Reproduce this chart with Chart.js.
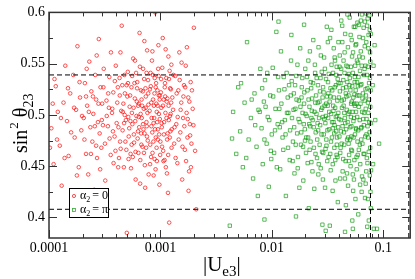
<!DOCTYPE html>
<html>
<head>
<meta charset="utf-8">
<script src="https://cdn.jsdelivr.net/npm/chart.js@4"></script>
<style>
  body { margin: 0; background: #fff; }
  #wrap { width: 415px; height: 279px; }
</style>
</head>
<body>
<div id="wrap"><canvas id="chart"></canvas></div>
<script>
// |Ue3| , sin^2 theta23 for alpha2 = 0
const redPoints = [
  [0.000105,0.487],[0.00011,0.452],[0.000115,0.528],[0.00012,0.503],[0.000125,0.47],[0.00013,0.431],[0.000135,0.512],[0.00014,0.548],[0.000145,0.494],[0.00015,0.46],
  [0.000155,0.521],[0.00016,0.418],[0.000165,0.539],[0.00017,0.478],[0.000175,0.505],[0.00018,0.567],[0.000185,0.449],[0.00019,0.517],[0.000195,0.485],[0.000112,0.535],
  [0.000205,0.497],[0.00021,0.531],[0.000215,0.462],[0.00022,0.509],[0.000225,0.442],[0.00023,0.552],[0.000235,0.488],[0.00024,0.523],[0.000245,0.474],[0.00025,0.501],
  [0.000255,0.427],[0.00026,0.539],[0.000265,0.515],[0.00027,0.458],[0.000275,0.493],[0.00028,0.574],[0.000285,0.482],[0.00029,0.527],[0.000295,0.468],[0.0003,0.511],
  [0.00031,0.545],[0.00032,0.436],[0.00033,0.499],[0.00034,0.521],[0.00035,0.477],[0.00036,0.561],[0.00037,0.506],[0.00038,0.453],[0.00039,0.533],[0.000215,0.518],
  [0.000265,0.47],[0.000305,0.49],[0.000345,0.507],[0.000375,0.484],[0.000395,0.465],
  [0.00041,0.512],[0.00042,0.488],[0.00043,0.536],[0.00044,0.467],[0.00045,0.587],[0.00046,0.503],[0.00047,0.449],[0.00048,0.521],[0.00049,0.495],[0.0005,0.385],
  [0.00051,0.542],[0.00052,0.479],[0.00053,0.508],[0.00054,0.462],[0.00055,0.527],[0.00056,0.491],[0.00057,0.555],[0.00058,0.473],[0.00059,0.516],[0.0006,0.437],
  [0.00061,0.499],[0.00062,0.532],[0.00063,0.484],[0.00064,0.511],[0.00065,0.58],[0.00066,0.456],[0.00067,0.524],[0.00068,0.497],[0.00069,0.469],[0.0007,0.545],
  [0.00071,0.506],[0.00072,0.482],[0.00073,0.429],[0.00074,0.518],[0.00075,0.493],[0.00076,0.563],[0.00077,0.475],[0.00078,0.51],[0.000425,0.458],[0.000455,0.529],
  [0.000485,0.474],[0.000515,0.498],[0.000545,0.448],[0.000575,0.507],[0.000605,0.541],[0.000635,0.463],[0.000665,0.501],[0.000695,0.523],[0.000725,0.451],[0.000755,0.489],
  [0.000445,0.504],[0.000535,0.519],[0.000625,0.477],[0.000715,0.535],[0.000785,0.442],
  [0.0008,0.504],[0.00081,0.471],[0.00082,0.528],[0.00083,0.489],[0.00084,0.553],[0.00085,0.463],[0.00086,0.515],[0.00087,0.441],[0.00088,0.497],[0.00089,0.536],
  [0.0009,0.6],[0.00091,0.478],[0.00092,0.511],[0.00093,0.455],[0.00094,0.524],[0.00095,0.486],[0.00096,0.568],[0.00097,0.501],[0.00098,0.432],[0.00099,0.519],
  [0.001,0.474],[0.00102,0.507],[0.00104,0.546],[0.00106,0.465],[0.00108,0.493],[0.0011,0.531],[0.00112,0.449],[0.00114,0.513],[0.00116,0.482],[0.00118,0.557],
  [0.0012,0.395],[0.00122,0.499],[0.00124,0.525],[0.00126,0.468],[0.000815,0.541],[0.000845,0.483],[0.000875,0.509],[0.000905,0.447],[0.000935,0.493],[0.000965,0.538],
  [0.000995,0.461],[0.00101,0.522],[0.00103,0.488],[0.00105,0.575],[0.00107,0.515],[0.00109,0.456],[0.00111,0.502],[0.00113,0.536],[0.00115,0.476],[0.00117,0.424],
  [0.00119,0.495],[0.00121,0.543],[0.00123,0.484],[0.00125,0.512],[0.000825,0.459],
  [0.0013,0.505],[0.00133,0.472],[0.00136,0.538],[0.00139,0.491],[0.00142,0.453],[0.00145,0.524],[0.00148,0.561],[0.00151,0.483],[0.00154,0.512],[0.00157,0.437],
  [0.0016,0.497],[0.00163,0.529],[0.00166,0.466],[0.00169,0.548],[0.00172,0.502],[0.00175,0.478],[0.00178,0.517],[0.00181,0.445],[0.00184,0.491],[0.00187,0.532],
  [0.0019,0.472],[0.00195,0.506],[0.002,0.585],[0.00205,0.465],[0.0021,0.408],
  [0.000102,0.468],[0.000108,0.511],[0.000118,0.476],[0.000128,0.497],[0.000138,0.458],[0.000148,0.526],[0.000158,0.483],[0.000168,0.507],[0.000178,0.441],[0.000188,0.532],
  [0.000198,0.499],[0.000208,0.476],[0.000218,0.545],[0.000228,0.503],[0.000238,0.462],[0.000248,0.518],[0.000258,0.489],[0.000268,0.558],[0.000278,0.511],[0.000288,0.447],
  [0.000298,0.495],[0.000308,0.527],[0.000318,0.472],[0.000328,0.514],[0.000338,0.489],[0.000348,0.537],[0.000358,0.461],[0.000368,0.502],[0.000378,0.522],[0.000388,0.479],
  [0.000398,0.548],[0.000405,0.492],[0.000415,0.527],[0.000435,0.474],[0.000465,0.511],[0.000475,0.539],[0.000495,0.466],[0.000505,0.518],[0.000525,0.487],[0.000555,0.502],
  [0.000565,0.459],[0.000585,0.531],[0.000595,0.494],[0.000615,0.513],[0.000645,0.488],[0.000655,0.547],[0.000675,0.471],[0.000685,0.509],[0.000705,0.486],[0.000735,0.526],
  [0.000745,0.468],[0.000765,0.502],[0.000775,0.534],[0.000418,0.449],[0.000438,0.561],[0.000458,0.485],[0.000478,0.5],[0.000498,0.529],[0.000518,0.457],[0.000538,0.494],
  [0.000558,0.538],[0.000578,0.481],[0.000598,0.464],[0.000618,0.526],[0.000638,0.498],[0.000658,0.433],[0.000678,0.515],[0.000698,0.491],[0.000718,0.572],[0.000738,0.507],
  [0.000758,0.479],[0.000778,0.521],[0.000432,0.519],[0.000472,0.492],[0.000512,0.531],[0.000552,0.471],[0.000592,0.553],[0.000632,0.509],[0.000672,0.482],[0.000712,0.463],
  [0.000752,0.541],[0.000805,0.525],[0.000835,0.497],[0.000855,0.539],[0.000865,0.474],[0.000885,0.521],[0.000895,0.486],[0.000915,0.531],[0.000925,0.468],[0.000945,0.509],
  [0.000955,0.545],[0.000975,0.481],[0.000985,0.515],[0.000808,0.452],[0.000828,0.512],[0.000848,0.562],[0.000868,0.492],[0.000888,0.457],[0.000908,0.527],[0.000928,0.503],
  [0.000948,0.476],[0.000968,0.519],[0.000988,0.496],[0.001015,0.535],[0.001035,0.469],[0.001055,0.509],[0.001075,0.481],[0.001095,0.527],[0.001115,0.564],[0.001135,0.497],
  [0.001155,0.516],[0.001175,0.461],[0.001195,0.535],[0.001215,0.478],[0.001235,0.501],[0.001255,0.549],[0.001025,0.492],[0.001065,0.455],[0.001105,0.518],[0.001145,0.443],
  [0.001185,0.509],[0.001225,0.526],[0.001265,0.486],
  [0.00128,0.517],[0.00131,0.539],[0.00134,0.488],[0.00137,0.458],[0.0014,0.521],[0.00143,0.498],[0.00146,0.476],[0.00149,0.534],[0.00152,0.505],[0.00155,0.551],
  [0.00158,0.469],[0.00161,0.518],[0.00164,0.489],[0.00167,0.527],[0.0017,0.455],[0.00173,0.566],[0.00176,0.496],[0.00179,0.426],[0.00182,0.513],[0.00185,0.48],
  [0.00188,0.449],[0.00192,0.524],[0.00198,0.49]
];

// |Ue3| , sin^2 theta23 for alpha2 = pi
const greenPoints = [
  [0.0042,0.392],[0.0045,0.503],[0.0048,0.462],[0.005,0.527],[0.0052,0.484],[0.0055,0.449],[0.0057,0.512],[0.006,0.571],[0.0062,0.476],[0.0065,0.497],
  [0.0068,0.438],[0.007,0.521],[0.0073,0.469],[0.0076,0.505],[0.0079,0.545],
  [0.0081,0.487],[0.0083,0.452],[0.0085,0.513],[0.0087,0.534],[0.009,0.472],[0.0092,0.498],[0.0094,0.43],[0.0097,0.519],[0.01,0.481],[0.0102,0.546],
  [0.0105,0.463],[0.0108,0.506],[0.011,0.581],[0.0113,0.491],[0.0116,0.524],[0.0119,0.447],[0.0122,0.511],[0.0125,0.478],[0.0128,0.537],[0.0131,0.495],
  [0.0134,0.421],[0.0137,0.502],[0.014,0.468],[0.0143,0.529],[0.0146,0.485],[0.0149,0.553],[0.0088,0.508],[0.0099,0.457],[0.0118,0.488],[0.0139,0.517],
  [0.0152,0.497],[0.0155,0.474],[0.0158,0.521],[0.016,0.443],[0.0163,0.506],[0.0166,0.538],[0.0169,0.482],[0.0172,0.459],[0.0175,0.514],[0.0178,0.493],
  [0.018,0.565],[0.0183,0.471],[0.0186,0.527],[0.0189,0.502],[0.0192,0.436],[0.0195,0.511],[0.0198,0.486],[0.02,0.545],[0.0203,0.463],[0.0206,0.499],
  [0.0209,0.524],[0.0212,0.478],[0.0215,0.409],[0.0218,0.508],[0.0221,0.489],[0.0224,0.532],[0.0227,0.454],[0.023,0.516],[0.0233,0.495],[0.0236,0.573],
  [0.0239,0.468],[0.0242,0.503],[0.0245,0.541],[0.0248,0.483],[0.0157,0.505],[0.0171,0.448],[0.0185,0.517],[0.0199,0.475],[0.0213,0.553],[0.0227,0.497],
  [0.0241,0.428],[0.0162,0.529],[0.0194,0.491],[0.0219,0.466],[0.0246,0.512],
  [0.0252,0.501],[0.0256,0.476],[0.026,0.529],[0.0264,0.452],[0.0268,0.513],[0.0272,0.49],[0.0276,0.558],[0.028,0.481],[0.0284,0.507],[0.0288,0.437],
  [0.0292,0.522],[0.0296,0.496],[0.03,0.545],[0.0304,0.467],[0.0308,0.511],[0.0312,0.586],[0.0316,0.485],[0.032,0.532],[0.0324,0.459],[0.0328,0.503],
  [0.0332,0.392],[0.0336,0.518],[0.034,0.474],[0.0344,0.549],[0.0348,0.493],[0.0352,0.426],[0.0356,0.509],[0.036,0.565],[0.0364,0.482],[0.0368,0.527],
  [0.0372,0.456],[0.0376,0.498],[0.038,0.539],[0.0384,0.471],[0.0388,0.514],[0.0392,0.415],[0.0396,0.502],[0.0258,0.492],[0.0274,0.536],[0.029,0.463],
  [0.0306,0.499],[0.0322,0.521],[0.0338,0.446],[0.0354,0.487],[0.037,0.553],[0.0386,0.478],[0.0262,0.442],[0.0286,0.517],[0.031,0.47],[0.0334,0.575],
  [0.0358,0.504],[0.0382,0.461],[0.0398,0.531],[0.0318,0.509],[0.0366,0.49],
  [0.0403,0.496],[0.0409,0.523],[0.0415,0.468],[0.0421,0.592],[0.0427,0.507],[0.0433,0.445],[0.0439,0.534],[0.0445,0.483],[0.0451,0.561],[0.0457,0.492],
  [0.0463,0.412],[0.0469,0.518],[0.0475,0.476],[0.0481,0.547],[0.0487,0.501],[0.0493,0.455],[0.0499,0.529],[0.0505,0.488],[0.0511,0.578],[0.0517,0.466],
  [0.0523,0.513],[0.0529,0.397],[0.0535,0.541],[0.0541,0.494],[0.0547,0.437],[0.0553,0.52],[0.0559,0.481],[0.0565,0.568],[0.0571,0.503],[0.0577,0.459],
  [0.0583,0.532],[0.0589,0.474],[0.0595,0.551],[0.0406,0.547],[0.0418,0.484],[0.043,0.571],[0.0442,0.509],[0.0454,0.438],[0.0466,0.527],[0.0478,0.598],
  [0.049,0.472],[0.0502,0.536],[0.0514,0.498],[0.0526,0.557],[0.0538,0.426],[0.055,0.511],[0.0562,0.586],[0.0574,0.486],[0.0586,0.519],[0.0598,0.403],
  [0.0412,0.463],[0.0448,0.502],[0.0484,0.431],[0.052,0.479],[0.0556,0.537],
  [0.0604,0.508],[0.0611,0.557],[0.0618,0.471],[0.0625,0.529],[0.0632,0.592],[0.0639,0.488],[0.0646,0.44],[0.0653,0.516],[0.066,0.575],[0.0667,0.462],
  [0.0674,0.502],[0.0681,0.545],[0.0688,0.419],[0.0695,0.525],[0.0702,0.599],[0.0709,0.481],[0.0716,0.539],[0.0723,0.453],[0.073,0.512],[0.0737,0.565],
  [0.0744,0.397],[0.0751,0.493],[0.0758,0.583],[0.0765,0.468],[0.0772,0.524],[0.0779,0.446],[0.0607,0.588],[0.0621,0.432],[0.0642,0.548],[0.0663,0.496],
  [0.0684,0.567],[0.0705,0.445],[0.0726,0.594],[0.0747,0.515],[0.0768,0.552],[0.0775,0.409],[0.0636,0.476],[0.0698,0.506],[0.0733,0.478],[0.0761,0.536],
  [0.0805,0.529],[0.0812,0.452],[0.0825,0.389],[0.0838,0.568],[0.085,0.495],[0.088,0.389],[0.092,0.472],[0.082,0.548],
  [0.0044,0.477],[0.0053,0.531],[0.0059,0.458],[0.0066,0.515],[0.0071,0.49],[0.0075,0.421],[0.0078,0.503],
  [0.0082,0.526],[0.0086,0.476],[0.0091,0.541],[0.0095,0.495],[0.0098,0.465],[0.0103,0.518],[0.0107,0.485],[0.0111,0.449],[0.0114,0.537],[0.0117,0.506],
  [0.0121,0.562],[0.0124,0.493],[0.0127,0.466],[0.013,0.525],[0.0133,0.481],[0.0136,0.541],[0.0141,0.502],[0.0145,0.456],[0.0148,0.519],
  [0.0151,0.533],[0.0154,0.455],[0.0159,0.488],[0.0164,0.471],[0.0167,0.515],[0.017,0.549],[0.0174,0.496],[0.0177,0.429],[0.0181,0.508],[0.0184,0.483],
  [0.0188,0.536],[0.0191,0.469],[0.0196,0.522],[0.0201,0.501],[0.0204,0.478],[0.0207,0.537],[0.021,0.453],[0.0214,0.515],[0.0217,0.491],[0.022,0.562],
  [0.0223,0.474],[0.0226,0.526],[0.0229,0.504],[0.0232,0.445],[0.0235,0.531],[0.0238,0.488],[0.0244,0.549],[0.0247,0.462],[0.025,0.519],
  [0.0253,0.536],[0.0255,0.458],[0.0259,0.512],[0.0261,0.485],[0.0263,0.566],[0.0266,0.497],[0.0269,0.471],[0.0271,0.523],[0.0275,0.448],[0.0278,0.505],
  [0.0281,0.542],[0.0283,0.464],[0.0287,0.498],[0.0289,0.527],[0.0293,0.481],[0.0295,0.556],[0.0298,0.509],[0.0301,0.429],[0.0303,0.492],[0.0307,0.535],
  [0.0309,0.476],[0.0313,0.518],[0.0315,0.455],[0.0319,0.571],[0.0321,0.497],[0.0325,0.54],[0.0327,0.486],[0.0331,0.513],[0.0335,0.462],[0.0337,0.526],
  [0.0341,0.501],[0.0343,0.583],[0.0347,0.478],[0.0349,0.524],[0.0353,0.452],[0.0355,0.541],[0.0359,0.493],[0.0361,0.517],[0.0365,0.468],[0.0367,0.556],
  [0.0371,0.507],[0.0373,0.436],[0.0377,0.529],[0.0379,0.484],[0.0383,0.547],[0.0385,0.499],[0.0389,0.459],[0.0391,0.535],[0.0395,0.488],[0.0397,0.571],
  [0.0401,0.517],[0.0405,0.479],[0.0408,0.558],[0.0411,0.438],[0.0414,0.531],[0.0417,0.495],[0.042,0.545],[0.0424,0.472],[0.0426,0.514],[0.0429,0.587],
  [0.0432,0.489],[0.0436,0.526],[0.0438,0.457],[0.0441,0.553],[0.0444,0.515],[0.0447,0.471],[0.045,0.541],[0.0453,0.497],[0.0456,0.579],[0.046,0.455],
  [0.0462,0.521],[0.0465,0.486],[0.0468,0.548],[0.0471,0.505],[0.0474,0.443],[0.0477,0.532],[0.048,0.493],[0.0483,0.566],[0.0486,0.478],[0.0489,0.519],
  [0.0492,0.54],[0.0495,0.461],[0.0498,0.503],[0.0501,0.595],[0.0504,0.476],[0.0508,0.524],[0.051,0.45],[0.0513,0.547],[0.0516,0.511],[0.0519,0.489],
  [0.0522,0.573],[0.0525,0.465],[0.0528,0.528],[0.0531,0.503],[0.0534,0.442],[0.0537,0.561],[0.054,0.517],[0.0543,0.478],[0.0546,0.586],[0.0549,0.497],
  [0.0552,0.456],[0.0555,0.532],[0.0558,0.509],[0.0561,0.548],[0.0564,0.418],[0.0567,0.524],[0.057,0.487],[0.0573,0.569],[0.0576,0.511],[0.0579,0.447],
  [0.0582,0.553],[0.0585,0.498],[0.0588,0.59],[0.0591,0.461],[0.0594,0.528],[0.0597,0.485],
  [0.0601,0.537],[0.0605,0.466],[0.0609,0.519],[0.0613,0.576],[0.0616,0.495],[0.062,0.543],[0.0623,0.452],[0.0627,0.511],[0.063,0.562],[0.0634,0.487],
  [0.0638,0.53],[0.0641,0.425],[0.0645,0.598],[0.0649,0.503],[0.0652,0.472],[0.0656,0.556],[0.0659,0.521],[0.0664,0.437],[0.0668,0.585],[0.0671,0.49],
  [0.0675,0.539],[0.0679,0.462],[0.0683,0.514],[0.0686,0.591],[0.069,0.479],[0.0694,0.548],[0.0697,0.433],[0.0701,0.519],[0.0706,0.571],[0.071,0.496],
  [0.0714,0.458],[0.0718,0.587],[0.0721,0.526],[0.0725,0.489],[0.0729,0.547],[0.0732,0.418],[0.0736,0.502],[0.074,0.578],[0.0743,0.464],[0.0748,0.531],
  [0.0752,0.597],[0.0756,0.483],[0.0759,0.441],[0.0763,0.561],[0.0767,0.508],[0.077,0.425],[0.0774,0.579],[0.0777,0.492],
  [0.0086,0.398],[0.0165,0.401],[0.0285,0.393],[0.0455,0.386],[0.0305,0.387],[0.0535,0.389],[0.072,0.391],[0.0115,0.591],[0.0195,0.588],[0.015,0.578]
];

const dashedU = [0.077, 0.17];
const dashedS = [0.408, 0.539];

const xRange = [0.0001, 0.175];
const yRange = [0.38, 0.6];
const xTicks = [0.0001, 0.001, 0.01, 0.1];
const xTickLabels = ['0.0001', '0.001', '0.01', '0.1'];
const yTicks = [0.4, 0.45, 0.5, 0.55, 0.6];
const yTickLabels = ['0.4', '0.45', '0.5', '0.55', '0.6'];
const legendValues = ['0', 'π'];

const RED = 'rgba(255,0,0,0.85)';
const GREEN = 'rgba(0,150,0,0.8)';
const SERIF = '"Liberation Serif", "DejaVu Serif", serif';

function toXY(arr) {
  return arr.map((p) => ({x: p[0], y: p[1]}));
}

function dashLine(pts) {
  return {
    type: 'line',
    data: pts,
    borderColor: '#000',
    borderWidth: 1,
    borderDash: [5, 3],
    pointRadius: 0,
    fill: false,
    showLine: true,
  };
}

// frame, inward ticks, axis titles and legend
const decorPlugin = {
  id: 'decor',
  afterDraw(chart) {
    const ctx = chart.ctx;
    const a = chart.chartArea;
    const xs = chart.scales.x, ys = chart.scales.y;
    ctx.save();
    ctx.strokeStyle = '#333';
    ctx.lineWidth = 1.5;
    ctx.strokeRect(a.left, a.top, a.right - a.left, a.bottom - a.top);

    ctx.lineWidth = 1;
    ctx.beginPath();
    // x ticks
    for (let d = 0.0001; d < 1; d *= 10) {
      for (let m = 1; m <= 9; m++) {
        const v = d * m;
        if (v < xRange[0] || v > xRange[1]) continue;
        const px = Math.round(xs.getPixelForValue(v)) + 0.5;
        const len = m === 1 ? 8 : 4;
        ctx.moveTo(px, a.bottom); ctx.lineTo(px, a.bottom - len);
        ctx.moveTo(px, a.top); ctx.lineTo(px, a.top + len);
      }
    }
    // y ticks
    for (let i = 0; i <= 8; i++) {
      const v = 0.4 + i * 0.025;
      const py = Math.round(ys.getPixelForValue(v)) + 0.5;
      const len = i % 2 === 0 ? 8 : 4;
      ctx.moveTo(a.left, py); ctx.lineTo(a.left + len, py);
      ctx.moveTo(a.right, py); ctx.lineTo(a.right - len, py);
    }
    ctx.stroke();

    // x title |Ue3|
    ctx.fillStyle = '#000';
    ctx.textBaseline = 'alphabetic';
    ctx.font = '21px ' + SERIF;
    let tx = 203, ty = 271;
    ctx.fillText('|U', tx, ty);
    tx += ctx.measureText('|U').width;
    ctx.font = '15px ' + SERIF;
    ctx.fillText('e3', tx, ty + 5);
    tx += ctx.measureText('e3').width;
    ctx.font = '21px ' + SERIF;
    ctx.fillText('|', tx, ty);

    // y title sin^2 theta23
    ctx.save();
    ctx.translate(27, 153);
    ctx.rotate(-Math.PI / 2);
    let sx = 0;
    ctx.font = '20px ' + SERIF;
    ctx.fillText('sin', sx, 0);
    sx += ctx.measureText('sin').width;
    ctx.font = '13px ' + SERIF;
    ctx.fillText('2', sx + 1, -9);
    sx += ctx.measureText('2').width + 6;
    ctx.font = '20px ' + SERIF;
    ctx.fillText('θ', sx, 0);
    sx += ctx.measureText('θ').width;
    ctx.font = '14px ' + SERIF;
    ctx.fillText('23', sx, 6);
    ctx.restore();

    // legend box
    const bx = 69, by = 188, bw = 39, bh = 29;
    ctx.fillStyle = '#fff';
    ctx.fillRect(bx, by, bw, bh);
    ctx.strokeStyle = '#000';
    ctx.lineWidth = 1;
    ctx.strokeRect(bx + 0.5, by + 0.5, bw, bh);
    legendValues.forEach((val, i) => {
      const ry = by + 8 + i * 14;
      ctx.lineWidth = 0.8;
      if (i === 0) {
        ctx.strokeStyle = RED;
        ctx.beginPath(); ctx.arc(bx + 5, ry, 1.6, 0, Math.PI * 2); ctx.stroke();
      } else {
        ctx.strokeStyle = GREEN;
        ctx.strokeRect(bx + 3.5, ry - 1.5, 3, 3);
      }
      ctx.fillStyle = '#000';
      ctx.textBaseline = 'middle';
      ctx.font = '12px ' + SERIF;
      let lx = bx + 11;
      ctx.fillText('α', lx, ry);
      lx += ctx.measureText('α').width;
      ctx.font = '8px ' + SERIF;
      ctx.fillText('2', lx, ry + 4);
      lx += ctx.measureText('2').width + 2;
      ctx.font = '12px ' + SERIF;
      ctx.fillText('= ' + val, lx, ry);
    });
    ctx.restore();
  }
};

document.addEventListener('DOMContentLoaded', () => {
  const ctx = document.getElementById('chart');
  new Chart(ctx, {
    type: 'scatter',
    data: {
      datasets: [
        dashLine([{x: xRange[0], y: dashedS[1]}, {x: dashedU[1], y: dashedS[1]}]),
        dashLine([{x: xRange[0], y: dashedS[0]}, {x: dashedU[1], y: dashedS[0]}]),
        dashLine([{x: dashedU[0], y: yRange[0]}, {x: dashedU[0], y: yRange[1]}]),
        dashLine([{x: dashedU[1], y: yRange[0]}, {x: dashedU[1], y: yRange[1]}]),
        {
          label: 'α2 = 0',
          data: toXY(redPoints),
          pointStyle: 'circle',
          pointRadius: 1.8,
          borderWidth: 0.8,
          borderColor: RED,
          backgroundColor: 'transparent',
        },
        {
          label: 'α2 = π',
          data: toXY(greenPoints),
          pointStyle: 'rect',
          pointRadius: 2.4,
          borderWidth: 0.8,
          borderColor: GREEN,
          backgroundColor: 'transparent',
        },
      ]
    },
    options: {
      animation: false,
      responsive: true,
      maintainAspectRatio: false,
      layout: {padding: {top: 6, right: 2, left: 0, bottom: 0}},
      plugins: {legend: {display: false}, tooltip: {enabled: false}},
      scales: {
        x: {
          type: 'logarithmic',
          min: xRange[0], max: xRange[1],
          grid: {display: false, drawTicks: false},
          border: {display: false},
          afterBuildTicks: (s) => { s.ticks = xTicks.map((v) => ({value: v})); },
          afterFit: (s) => { s.height = 41; },
          ticks: {
            autoSkip: false, maxRotation: 0, padding: 2, color: '#000',
            font: {family: SERIF, size: 14},
            callback: (v, i) => xTickLabels[i],
          },
        },
        y: {
          type: 'linear',
          min: yRange[0], max: yRange[1],
          grid: {display: false, drawTicks: false},
          border: {display: false},
          afterBuildTicks: (s) => { s.ticks = yTicks.map((v) => ({value: v})); },
          afterFit: (s) => { s.width = 49; },
          ticks: {
            autoSkip: false, padding: 4, color: '#000',
            font: {family: SERIF, size: 14},
            callback: (v, i) => yTickLabels[i],
          },
        },
      },
    },
    plugins: [decorPlugin],
  });
});
</script>
</body>
</html>
